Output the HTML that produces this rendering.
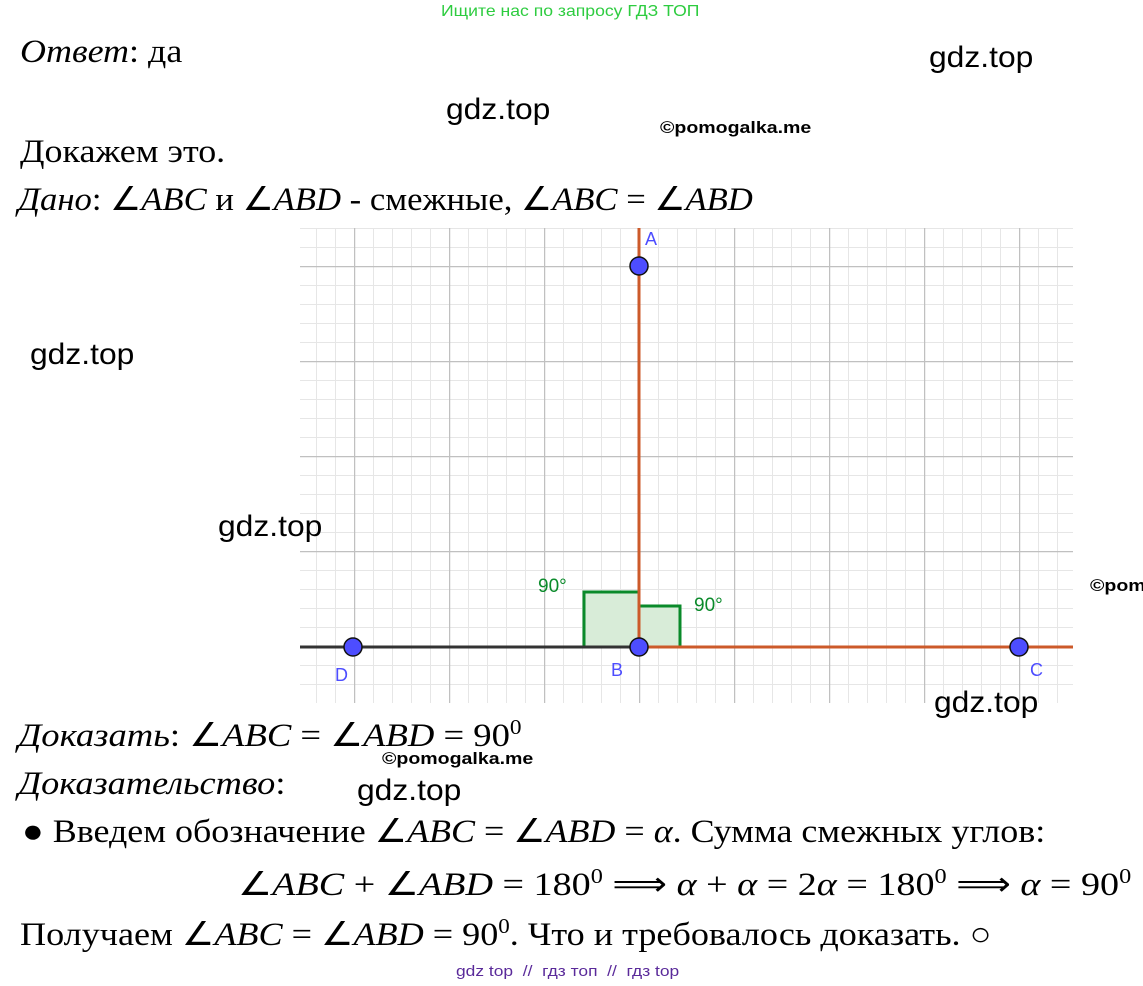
<!DOCTYPE html>
<html><head><meta charset="utf-8"><style>
body{margin:0;width:1143px;height:986px;background:#fff;position:relative;overflow:hidden}
.t{position:absolute;white-space:nowrap;font-family:"Liberation Serif",serif;font-size:33px;line-height:1;color:#000;transform-origin:0 0}
.i{font-style:italic}
.g{position:absolute;font-family:"Liberation Sans",sans-serif;font-size:30px;line-height:1;white-space:nowrap;transform:scaleX(1.06);transform-origin:0 0}
.p{position:absolute;font-family:"Liberation Sans",sans-serif;font-weight:bold;font-size:17px;line-height:1;white-space:nowrap;transform:scaleX(1.15);transform-origin:0 0}
sup{font-size:21px}
</style></head><body>
<svg width="1143" height="986" style="position:absolute;left:0;top:0">
<defs>
<pattern id="gp" x="354" y="266" width="95" height="95" patternUnits="userSpaceOnUse">
<g stroke="#e6e6e6" stroke-width="1">
<line x1="19.5" y1="0" x2="19.5" y2="95"/><line x1="38.5" y1="0" x2="38.5" y2="95"/><line x1="57.5" y1="0" x2="57.5" y2="95"/><line x1="76.5" y1="0" x2="76.5" y2="95"/>
<line y1="19.5" x1="0" y2="19.5" x2="95"/><line y1="38.5" x1="0" y2="38.5" x2="95"/><line y1="57.5" x1="0" y2="57.5" x2="95"/><line y1="76.5" x1="0" y2="76.5" x2="95"/>
</g>
<line x1="0.5" y1="0" x2="0.5" y2="95" stroke="#c0c0c0" stroke-width="1.5"/>
<line y1="0.5" x1="0" y2="0.5" x2="95" stroke="#c0c0c0" stroke-width="1.5"/>
</pattern></defs>
<rect x="300" y="228" width="773" height="475" fill="url(#gp)"/>
<rect x="584" y="592" width="55" height="55" fill="#d8ecd8" stroke="#0a8a2a" stroke-width="3"/>
<rect x="639" y="606" width="41" height="41" fill="#d8ecd8" stroke="#0a8a2a" stroke-width="3"/>
<line x1="300" y1="647" x2="639" y2="647" stroke="#333" stroke-width="3"/>
<line x1="639" y1="647" x2="1073" y2="647" stroke="#cc5a2a" stroke-width="3"/>
<line x1="639" y1="228" x2="639" y2="647" stroke="#cc5a2a" stroke-width="3"/>
<g fill="#4d4dff" stroke="#111" stroke-width="1.5">
<circle cx="639" cy="266" r="9"/><circle cx="639" cy="647" r="9"/><circle cx="353" cy="647" r="9"/><circle cx="1019" cy="647" r="9"/>
</g>
<g font-family="Liberation Sans,sans-serif" font-size="18" fill="#4d4dff">
<text x="645" y="245">A</text><text x="611" y="676">B</text><text x="335" y="681">D</text><text x="1030" y="676">C</text>
</g>
<g font-family="Liberation Sans,sans-serif" font-size="19" fill="#0a8a2a">
<text x="538" y="592">90°</text><text x="694" y="611">90°</text>
</g>
</svg>
<div style="position:absolute;left:441px;top:3px;font-family:'Liberation Sans',sans-serif;font-size:16px;color:#2ecc40;white-space:nowrap;transform:scaleX(1.1);transform-origin:0 0">Ищите нас по запросу ГДЗ ТОП</div>
<div class="t" style="left:20px;top:36px;transform:scaleX(1.09)"><span class="i">Ответ</span>: да</div>
<div class="g" style="left:929px;top:43px">gdz.top</div>
<div class="g" style="left:446px;top:95px">gdz.top</div>
<div class="p" style="left:660px;top:119px">©pomogalka.me</div>
<div class="t" style="left:20px;top:136px;transform:scaleX(1.09)">Докажем это.</div>
<div class="t" style="left:18px;top:184px;transform:scaleX(1.05)"><span class="i">Дано</span>: ∠<span class="i">ABC</span> и ∠<span class="i">ABD</span> - смежные, ∠<span class="i">ABC</span> = ∠<span class="i">ABD</span></div>
<div class="g" style="left:30px;top:340px">gdz.top</div>
<div class="g" style="left:218px;top:512px">gdz.top</div>
<div class="p" style="left:1090px;top:577px">©pom</div>
<div class="g" style="left:934px;top:688px">gdz.top</div>
<div class="t" style="left:18px;top:717px;transform:scaleX(1.11)"><span class="i">Доказать</span>: ∠<span class="i">ABC</span> = ∠<span class="i">ABD</span> = 90<sup>0</sup></div>
<div class="p" style="left:382px;top:750px">©pomogalka.me</div>
<div class="t" style="left:18px;top:768px;transform:scaleX(1.1)"><span class="i">Доказательство</span>:</div>
<div class="g" style="left:357px;top:776px">gdz.top</div>
<div class="t" style="left:22px;top:816px;transform:scaleX(1.09)">● Введем обозначение ∠<span class="i">ABC</span> = ∠<span class="i">ABD</span> = <span class="i">α</span>. Сумма смежных углов:</div>
<div class="t" style="left:238px;top:866px;transform:scaleX(1.155)">∠<span class="i">ABC</span> + ∠<span class="i">ABD</span> = 180<sup>0</sup> ⟹ <span class="i">α</span> + <span class="i">α</span> = 2<span class="i">α</span> = 180<sup>0</sup> ⟹ <span class="i">α</span> = 90<sup>0</sup></div>
<div class="t" style="left:20px;top:916px;transform:scaleX(1.095)">Получаем ∠<span class="i">ABC</span> = ∠<span class="i">ABD</span> = 90<sup>0</sup>. Что и требовалось доказать. ○</div>
<div style="position:absolute;left:456px;top:963px;font-family:'Liberation Sans',sans-serif;font-size:15px;color:#5a2a9a;white-space:pre;transform:scaleX(1.16);transform-origin:0 0">gdz top  //  гдз топ  //  гдз top</div>
</body></html>
